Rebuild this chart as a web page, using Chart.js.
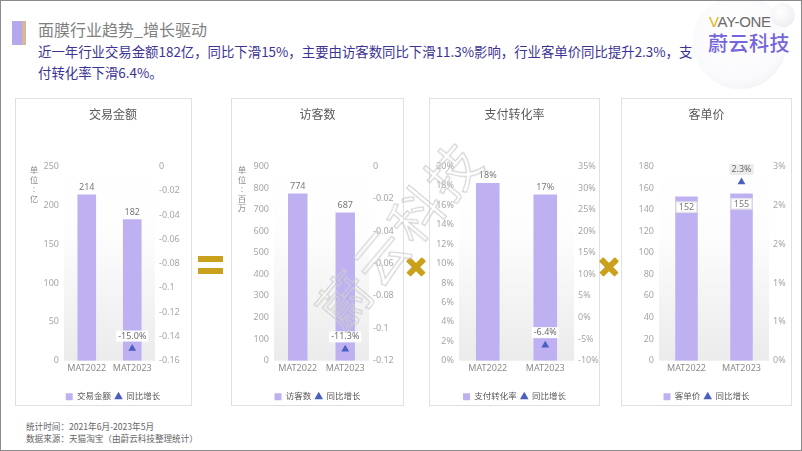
<!DOCTYPE html>
<html>
<head>
<meta charset="utf-8">
<script src="https://cdn.jsdelivr.net/npm/chart.js@4.4.0/dist/chart.umd.min.js"></script>
<style>
body { margin: 0; background: #fff; font-family: "Noto Sans CJK SC", "Noto Sans", sans-serif; }
#page { position: relative; width: 800px; height: 449px; border: 1px solid #8a8a8a; overflow: hidden; background: #fff; }
.accent { position: absolute; left: 11px; top: 20px; width: 10px; height: 24px; background: #b7a8ee; }
.accent2 { position: absolute; left: 21px; top: 20px; width: 4px; height: 24px; background: #d6b79b; }
.title { position: absolute; left: 37px; top: 17px; font-size: 16px; line-height: 23px; color: #808080; white-space: nowrap; }
.sub { position: absolute; left: 37px; font-size: 13.4px; line-height: 19px; color: #3c3394; white-space: nowrap; z-index: 3; }
.card { position: absolute; top: 97px; height: 308px; border: 1px solid #e0e0e0; box-sizing: border-box; background: #fff; }
.card canvas { position: absolute; top: 0; }
.unit { position: absolute; width: 10px; text-align: center; font-size: 8.5px; color: #8c8c8c; line-height: 9.5px; }
.eq { position: absolute; left: 197px; width: 25px; height: 6px; background: #c9a11c; }
.cross { position: absolute; width: 20px; height: 20px; }
.cross::before, .cross::after { content: ""; position: absolute; left: -1px; top: 7px; width: 22px; height: 5.5px; background: #c9a11c; border-radius: 1px; }
.cross::before { transform: rotate(45deg); }
.cross::after { transform: rotate(-45deg); }
.foot { position: absolute; left: 25px; font-size: 8.6px; color: #666; white-space: nowrap; }
.bubble { position: absolute; left: 692px; top: -6px; width: 94px; height: 94px; border-radius: 50%;
  background: radial-gradient(circle at 45% 40%, rgba(255,255,255,0.95) 0%, rgba(248,248,251,0.8) 65%, rgba(218,218,228,0.65) 100%); }
.bubble2 { position: absolute; left: 770px; top: 2px; width: 24px; height: 24px; border-radius: 50%;
  background: radial-gradient(circle at 40% 35%, #fff 0%, #f0f0f4 70%, #d3d3dc 100%); }
.logo1 { position: absolute; left: 708px; top: 12px; font-family: "Liberation Sans", sans-serif; font-size: 15px; color: #6a6a6a; letter-spacing: -0.3px; z-index: 2; }
.logo1 span { color: #e0b30e; }
.logo2 { position: absolute; left: 707px; top: 27px; font-size: 20px; font-weight: 500; color: #7565da; letter-spacing: 0.5px; z-index: 2; }
.mark { position: absolute; left: 282px; top: 194px; width: 230px; text-align: center; font-size: 52px; color: transparent;
  -webkit-text-stroke: 1px #cdcdcd; transform: rotate(-50deg); transform-origin: 50% 50%; letter-spacing: 4px; white-space: nowrap; pointer-events: none; }
</style>
</head>
<body>
<div id="page">
  <div class="accent"></div><div class="accent2"></div>
  <div class="title">面膜行业趋势_增长驱动</div>

  <div class="bubble"></div><div class="bubble2"></div>
  <div class="logo1"><span>V</span>AY-ONE</div>
  <div class="logo2">蔚云科技</div>

  <div class="sub" style="top:41px">近一年行业交易金额182亿，同比下滑15%，主要由访客数同比下滑11.3%影响，行业客单价同比提升2.3%，支</div>
  <div class="sub" style="top:62px">付转化率下滑6.4%。</div>

  <div class="card" style="left:14px;width:177px"><canvas id="chartGmv" width="156" height="306" style="left:19px"></canvas></div>
  <div class="card" style="left:230px;width:173px"><canvas id="chartVisitor" width="171" height="306" style="left:0"></canvas></div>
  <div class="card" style="left:428px;width:171px"><canvas id="chartCvr" width="169" height="306" style="left:0"></canvas></div>
  <div class="card" style="left:620px;width:171px"><canvas id="chartAov" width="169" height="306" style="left:0"></canvas></div>

  <div class="unit" style="left:28px;top:164px">单<br>位<br>:<br>亿</div>
  <div class="unit" style="left:236px;top:164px">单<br>位<br>:<br>百<br>万</div>

  <div class="eq" style="top:255px"></div>
  <div class="eq" style="top:267px"></div>
  <div class="cross" style="left:405px;top:256px"></div>
  <div class="cross" style="left:598px;top:256px"></div>

  <div class="mark">蔚云科技</div>

  <div class="foot" style="top:419px">统计时间：2021年6月-2023年5月</div>
  <div class="foot" style="top:431px">数据来源：天猫淘宝（由蔚云科技整理统计）</div>
</div>

<script>
// 数据
const categories = ['MAT2022', 'MAT2023'];
const gmvValues = [214, 182];          // 交易金额 (亿)
const gmvGrowth = [null, -0.15];
const visitorValues = [774, 687];      // 访客数 (百万)
const visitorGrowth = [null, -0.113];
const cvrValues = [0.183, 0.171];      // 支付转化率
const cvrGrowth = [null, -0.064];
const aovValues = [152, 155];          // 客单价
const aovGrowth = [null, 0.023];

const barColor = '#bfb1f1';
const triColor = '#4a5fbf';
const fontFamily = "'Noto Sans', 'Noto Sans CJK SC', sans-serif";

const num = v => String(+v.toFixed(2));
const pct0 = v => Math.round(v * 100 + 1e-9) + '%';
const pct1 = v => (v * 100).toFixed(1) + '%';

// 绘图区渐变背景
const plotShade = {
    id: 'plotShade',
    beforeDatasetsDraw(chart) {
        const { ctx, chartArea: a } = chart;
        const g = ctx.createLinearGradient(0, a.top, 0, a.bottom);
        g.addColorStop(0, '#ffffff');
        g.addColorStop(0.35, '#fdfdfd');
        g.addColorStop(1, '#ebebeb');
        ctx.save();
        ctx.fillStyle = g;
        ctx.fillRect(a.left, a.top, a.right - a.left, a.bottom - a.top);
        ctx.restore();
    }
};

// 数据标签
const valueLabels = {
    id: 'valueLabels',
    afterDatasetsDraw(chart, args, o) {
        const ctx = chart.ctx;
        ctx.save();
        ctx.font = '9px ' + fontFamily;
        ctx.textAlign = 'center';
        ctx.textBaseline = 'middle';
        chart.getDatasetMeta(0).data.forEach((bar, i) => {
            const txt = o.fmtBar(chart.data.datasets[0].data[i]);
            if (o.inside) {
                const w = ctx.measureText(txt).width + 6;
                ctx.fillStyle = '#fff';
                ctx.strokeStyle = '#e2e2e2';
                ctx.fillRect(bar.x - w / 2, bar.y + 5, w, 11);
                ctx.strokeRect(bar.x - w / 2 + 0.5, bar.y + 5.5, w - 1, 10);
                ctx.fillStyle = '#7a7a7a';
                ctx.fillText(txt, bar.x, bar.y + 11);
            } else {
                ctx.fillStyle = '#7a7a7a';
                ctx.fillText(txt, bar.x, bar.y - 7);
            }
        });
        chart.getDatasetMeta(1).data.forEach((pt, i) => {
            const v = chart.data.datasets[1].data[i];
            if (v == null) return;
            const txt = pct1(v);
            const w = Math.max(ctx.measureText(txt).width + 4, 24);
            ctx.fillStyle = o.boxColor;
            ctx.fillRect(pt.x - w / 2, pt.y - 18, w, 11);
            ctx.fillStyle = '#6e6e6e';
            ctx.fillText(txt, pt.x, pt.y - 12.5);
        });
        ctx.restore();
    }
};

function buildChart(id, o) {
    const ctx = document.getElementById(id).getContext('2d');
    return new Chart(ctx, {
        data: {
            labels: categories,
            datasets: [{
                type: 'bar',
                label: o.barLabel,
                data: o.bars,
                backgroundColor: barColor,
                categoryPercentage: 0.5,
                barPercentage: 0.82,
                yAxisID: 'y',
                pointStyle: 'rect'
            }, {
                type: 'line',
                label: '同比增长',
                data: o.growth,
                yAxisID: 'y1',
                showLine: false,
                pointStyle: 'triangle',
                pointRadius: 4.5,
                backgroundColor: triColor,
                borderColor: triColor,
                borderWidth: 0,
                order: -1
            }]
        },
        options: {
            responsive: false,
            animation: false,
            layout: { padding: { left: 0, right: 0, top: 0, bottom: -6 } },
            plugins: {
                title: {
                    display: true,
                    text: o.title,
                    color: '#595959',
                    font: { size: 12, family: fontFamily, weight: 'normal' },
                    padding: { top: 9, bottom: 44 }
                },
                legend: {
                    position: 'bottom',
                    labels: {
                        usePointStyle: true,
                        boxWidth: 7,
                        boxHeight: 7,
                        padding: 4,
                        color: '#595959',
                        font: { size: 8.5, family: fontFamily },
                        sort: (a, b) => a.datasetIndex - b.datasetIndex
                    }
                },
                tooltip: { enabled: false },
                valueLabels: o.labels
            },
            scales: {
                x: {
                    grid: { display: false, drawTicks: false },
                    border: { display: false },
                    ticks: { color: '#8c8c8c', padding: 2, font: { size: 9, family: fontFamily } },
                    afterFit: s => { s.height += 13; }
                },
                y: {
                    position: 'left',
                    min: o.yMin, max: o.yMax,
                    grid: { display: false, drawTicks: false },
                    border: { display: false },
                    ticks: { stepSize: o.yStep, color: '#a6a6a6', padding: 5, font: { size: 9, family: fontFamily }, callback: o.yFmt },
                    afterFit: s => { s.width = o.leftW; }
                },
                y1: {
                    position: 'right',
                    min: o.rMin, max: o.rMax,
                    grid: { display: false, drawTicks: false },
                    border: { display: false },
                    ticks: { stepSize: o.rStep, color: '#a6a6a6', padding: 4, font: { size: 9, family: fontFamily }, callback: o.rFmt },
                    afterFit: s => { s.width = o.rightW; }
                }
            }
        },
        plugins: [plotShade, valueLabels]
    });
}

// 交易金额
buildChart('chartGmv', {
    title: '交易金额', barLabel: '交易金额', bars: gmvValues, growth: gmvGrowth,
    yMin: 0, yMax: 250, yStep: 50, yFmt: v => v,
    rMin: -0.16, rMax: 0, rStep: 0.02, rFmt: num,
    leftW: 29, rightW: 36,
    labels: { fmtBar: v => v, boxColor: '#ffffff' }
});

// 访客数
buildChart('chartVisitor', {
    title: '访客数', barLabel: '访客数', bars: visitorValues, growth: visitorGrowth,
    yMin: 0, yMax: 900, yStep: 100, yFmt: v => v,
    rMin: -0.12, rMax: 0, rStep: 0.02, rFmt: num,
    leftW: 42, rightW: 34,
    labels: { fmtBar: v => v, boxColor: '#ffffff' }
});

// 支付转化率
buildChart('chartCvr', {
    title: '支付转化率', barLabel: '支付转化率', bars: cvrValues, growth: cvrGrowth,
    yMin: 0, yMax: 0.2, yStep: 0.02, yFmt: pct0,
    rMin: -0.1, rMax: 0.35, rStep: 0.05, rFmt: pct0,
    leftW: 29, rightW: 25,
    labels: { fmtBar: pct0, boxColor: '#ffffff' }
});

// 客单价
buildChart('chartAov', {
    title: '客单价', barLabel: '客单价', bars: aovValues, growth: aovGrowth,
    yMin: 0, yMax: 180, yStep: 20, yFmt: v => v,
    rMin: 0, rMax: 0.025, rStep: 0.005, rFmt: pct0,
    leftW: 37, rightW: 22,
    labels: { fmtBar: v => v, inside: true, boxColor: '#ececec' }
});
</script>
</body>
</html>
